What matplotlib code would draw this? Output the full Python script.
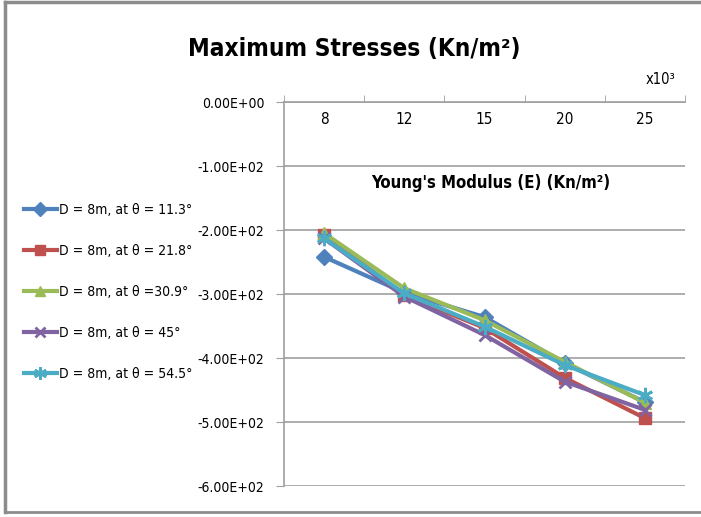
import numpy as np
import matplotlib.pyplot as plt
from matplotlib.lines import Line2D

# Young's modulus categories (x10^3 Kn/m2)
moduli = ['8', '12', '15', '20', '25']

# maximum stresses (Kn/m2) for each angle
stress_113 = [-242, -298, -336, -408, -469]
stress_218 = [-208, -302, -353, -431, -494]
stress_309 = [-205, -291, -341, -406, -470]
stress_45 = [-213, -304, -364, -437, -481]
stress_545 = [-213, -299, -351, -411, -458]

labels = ['D = 8m, at θ = 11.3°', 'D = 8m, at θ = 21.8°', 'D = 8m, at θ =30.9°',
          'D = 8m, at θ = 45°', 'D = 8m, at θ = 54.5°']

yticks = [0, -100, -200, -300, -400, -500, -600]

colors = ['#4F81BD', '#C0504D', '#9BBB59', '#8064A2', '#4BACC6']
markers = ['D', 's', '^', 'x', (6, 2, 0)]
msizes = [8, 8, 9, 9, 11]

plt.rcParams['font.family'] = ['DejaVu Sans']
plt.rcParams['font.stretch'] = 'condensed'

fig = plt.figure(figsize=(7.01, 5.17), dpi=100)
ax = fig.add_axes([284 / 701, 1 - 486 / 517, 401 / 701, 384 / 517])

x = np.arange(len(moduli))
series = [stress_113, stress_218, stress_309, stress_45, stress_545]
handles = []
for s, c, m, ms, lab in zip(series, colors, markers, msizes, labels):
    mew = 2 if m in ('x', (6, 2, 0)) else 1
    ax.plot(x, s, color=c, lw=3, marker=m, ms=ms, mec=c, mfc=c, mew=mew,
            label=lab, zorder=3)
    handles.append(Line2D([], [], color=c, lw=3, marker=m, ms=ms * 0.85, mec=c,
                          mfc=c, mew=mew))

ax.set_xlim(-0.5, len(moduli) - 0.5)
ax.set_ylim(-600, 0)
ax.set_yticks(yticks)
ax.set_yticklabels(['{:.2E}'.format(v) for v in yticks], fontsize=10)
ax.yaxis.grid(True, color='#A0A0A0', lw=1.2)
ax.set_axisbelow(True)

# category axis sits on top, labels drawn just under it
ax.set_xticks([])
ax.set_xticks(np.arange(-0.5, len(moduli)), minor=True)
ax.xaxis.set_ticks_position('top')
ax.tick_params(axis='x', which='minor', direction='out', length=5, color='#A0A0A0',
               top=True, bottom=False, labeltop=False)
ax.tick_params(axis='y', direction='out', length=6, color='#A0A0A0', pad=8)
for xi, lab in zip(x, moduli):
    ax.text(xi, -28, lab, ha='center', va='center', fontsize=11)

for sp in ['right', 'bottom']:
    ax.spines[sp].set_visible(False)
for sp in ['left', 'top']:
    ax.spines[sp].set_color('#A0A0A0')
    ax.spines[sp].set_linewidth(1.2)

fig.text(491 / 701, 1 - 183 / 517, "Young's Modulus (E) (Kn/m²)", ha='center',
         va='center', fontsize=12, fontweight='bold')
fig.text(660 / 701, 1 - 80 / 517, 'x10³', ha='center', va='center', fontsize=10.5)
fig.text(354 / 701, 1 - 49 / 517, 'Maximum Stresses (Kn/m²)', ha='center',
         va='center', fontsize=17.5, fontweight='bold')

fig.legend(handles, labels, loc='upper left', bbox_to_anchor=(18 / 701, 1 - 197 / 517),
           frameon=False, fontsize=10, handlelength=2.4, handletextpad=0.15,
           labelspacing=1.95, borderaxespad=0)

# chart frame
fig.add_artist(Line2D([5 / 701, 1], [1 - 2 / 517] * 2, color='#8C8C8C', lw=2.5))
fig.add_artist(Line2D([5 / 701] * 2, [1 - 2 / 517, 1 - 512 / 517], color='#8C8C8C', lw=2.5))
fig.add_artist(Line2D([5 / 701, 1], [1 - 512 / 517] * 2, color='#8C8C8C', lw=2))

fig.savefig('out.png', dpi=100)
